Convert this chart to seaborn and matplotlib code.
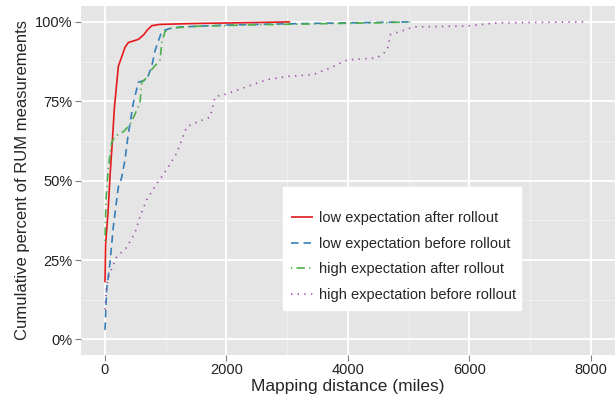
import numpy as np
import pandas as pd
import seaborn as sns
import matplotlib

matplotlib.use("Agg")
import matplotlib.pyplot as plt
from matplotlib.ticker import MultipleLocator, FuncFormatter

# CDF curves (miles, cumulative percent)
low_after_x = [0, 10, 50, 85, 120, 155, 220, 275, 330, 385, 470, 550, 640, 700, 770, 900, 1500, 2500, 3050]
low_after_y = [18, 30, 40, 52, 62, 73, 86, 89, 92, 93.5, 94, 94.5, 96, 97.5, 98.8, 99.2, 99.5, 99.8, 100]

low_before_x = [0, 27, 82, 137, 220, 275, 330, 385, 412, 467, 550, 687, 770, 825, 880, 935, 1045, 1237, 2000, 3000, 4000, 5060]
low_before_y = [3, 15.7, 24, 35.5, 48, 51, 56.6, 65, 68, 74.5, 81, 81.8, 86, 91, 94, 97, 97.8, 98.4, 99.0, 99.4, 99.7, 100]

high_after_x = [0, 16, 55, 110, 165, 302, 412, 495, 577, 605, 687, 770, 907, 935, 990, 1072, 1500, 2500, 3500, 4500, 5030]
high_after_y = [31, 44, 54, 62, 64, 65.4, 67.6, 71, 74.5, 81, 82.4, 85, 88, 93.4, 97, 98, 98.6, 99.1, 99.4, 99.7, 100]

high_before_x = [0, 27, 82, 192, 357, 495, 577, 687, 852, 1017, 1182, 1265, 1347, 1457, 1732, 1815, 1952,
                 2337, 2667, 2997, 3432, 3712, 3988, 4483, 4648, 4702, 4867, 5082, 5968, 6463, 7887]
high_before_y = [9.4, 16.7, 21, 26, 29, 33.6, 38.7, 44, 49, 53.5, 58.7, 63, 67, 68, 70, 76.5, 77,
                 79.6, 81.8, 82.8, 83.4, 85.5, 88, 88.7, 91, 96, 97, 98.4, 98.7, 99.7, 100]

labels = [
    "low expectation after rollout",
    "low expectation before rollout",
    "high expectation after rollout",
    "high expectation before rollout",
]
colors = ["#E41A1C", "#377EB8", "#4DAF4A", "#984EA3"]
dash_styles = [(1, 0), (4.5, 3), (0.8, 2.5, 5, 2.5), (0.8, 3.2)]

series = [
    (low_after_x, low_after_y),
    (low_before_x, low_before_y),
    (high_after_x, high_after_y),
    (high_before_x, high_before_y),
]
df = pd.concat(
    [pd.DataFrame({"miles": x, "pct": y, "group": lab}) for (x, y), lab in zip(series, labels)],
    ignore_index=True,
)

sns.set_theme(style="darkgrid", rc={
    "axes.facecolor": "#E5E5E5",
    "grid.color": "white",
    "xtick.bottom": True,
    "ytick.left": True,
    "xtick.major.size": 4,
    "ytick.major.size": 4,
    "xtick.color": "#7F7F7F",
    "ytick.color": "#7F7F7F",
    "xtick.labelcolor": "#222222",
    "ytick.labelcolor": "#222222",
})
plt.rcParams["font.family"] = ["Liberation Sans", "DejaVu Sans"]

fig, ax = plt.subplots(figsize=(6.15, 4.0), dpi=100)
fig.subplots_adjust(left=81 / 615, right=1.0, top=1 - 6 / 400, bottom=1 - 355 / 400)

sns.lineplot(
    data=df,
    x="miles",
    y="pct",
    hue="group",
    style="group",
    hue_order=labels,
    style_order=labels,
    palette=colors,
    dashes=dash_styles,
    estimator=None,
    sort=False,
    linewidth=1.2,
    ax=ax,
)

ax.set_xlim(-395, 8400)
ax.set_ylim(-4.9, 105)
ax.xaxis.set_major_locator(MultipleLocator(2000))
ax.xaxis.set_minor_locator(MultipleLocator(1000))
ax.yaxis.set_major_locator(MultipleLocator(25))
ax.yaxis.set_minor_locator(MultipleLocator(12.5))
ax.yaxis.set_major_formatter(FuncFormatter(lambda v, p: f"{v:.0f}%"))
ax.grid(which="major", color="white", linewidth=1.3)
ax.grid(which="minor", color="#F2F2F2", linewidth=0.6)
ax.tick_params(which="minor", length=0)
ax.tick_params(which="major", labelsize=10.5, pad=2, width=0.8)
for spine in ax.spines.values():
    spine.set_visible(False)

ax.set_xlabel("Mapping distance (miles)", fontsize=12.5, labelpad=1)
ax.set_ylabel("Cumulative percent of RUM measurements", fontsize=12, labelpad=4)

leg = ax.legend(
    loc="lower left",
    bbox_to_anchor=(0.3785, 0.129, 0.446, 0.344),
    mode="expand",
    borderaxespad=0,
    fontsize=10.5,
    frameon=True,
    fancybox=False,
    title=" ",
    title_fontsize=2.5,
    handlelength=1.5,
    handletextpad=0.4,
    labelspacing=0.8,
    borderpad=0.55,
)
leg.get_frame().set_facecolor("white")
leg.get_frame().set_edgecolor("white")
leg.get_frame().set_alpha(1.0)

fig.savefig("out.png", dpi=100)
